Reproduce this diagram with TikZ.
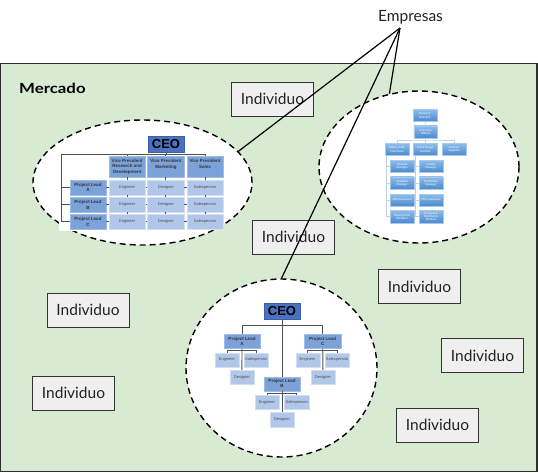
\documentclass[tikz,border=0pt]{standalone}
\usepackage{fontspec}
\setmainfont{Lato}
\newfontfamily\mercfont[FakeStretch=1.2]{Lato}
\newfontfamily\chf{Liberation Sans}
\usetikzlibrary{shapes.geometric}
\definecolor{mk}{HTML}{D9EAD3}
\definecolor{mkb}{HTML}{2E2E2E}
\definecolor{indf}{HTML}{EFEFEF}
\definecolor{indb}{HTML}{333333}
\definecolor{txt}{HTML}{222222}
\definecolor{ceof}{HTML}{4A72C0}
\definecolor{ceod}{HTML}{3A5FA8}
\definecolor{midf}{HTML}{7CA2DA}
\definecolor{midd}{HTML}{9DBBE6}
\definecolor{leaff}{HTML}{B0C7EA}
\definecolor{leafd}{HTML}{D2DFF3}
\definecolor{orgl}{HTML}{505050}
\definecolor{gtop}{HTML}{8DBCE9}
\definecolor{gbot}{HTML}{4A8BD0}
\definecolor{gbrd}{HTML}{A9C9EC}
\definecolor{glin}{HTML}{C2D1E2}
\begin{document}
\begin{tikzpicture}[x=1pt,y=-1pt,
  indiv/.style={draw=indb, fill=indf, line width=0.8pt, minimum width=82pt, minimum height=34pt, inner sep=0pt, text=txt, font=\fontsize{15.5}{18}\selectfont},
  firm/.style={ellipse, draw=black, fill=white, line width=1.4pt, dash pattern=on 6pt off 4pt, inner sep=0pt},
  conn/.style={draw=black, line width=1.2pt},
  ceobox/.style={fill=ceof, draw=ceod, line width=0.5pt, inner sep=0pt, minimum width=36.5pt, minimum height=16.3pt, font=\chf\bfseries\fontsize{13}{13}\selectfont, text=black},
  midbox/.style={fill=midf, draw=midd, line width=0.4pt, inner sep=0pt, align=center, font=\chf\bfseries\fontsize{4.5}{5.3}\selectfont, text=black!80},
  leafbox/.style={fill=leaff, draw=leafd, line width=0.4pt, inner sep=0pt, align=center, font=\chf\fontsize{4}{5}\selectfont, text=black!70},
  orgline/.style={draw=orgl, line width=0.9pt},
  gbox/.style={top color=gtop, bottom color=gbot, draw=gbrd, line width=0.4pt, inner sep=0pt, align=center, minimum width=23.5pt, minimum height=12.2pt, font=\chf\fontsize{2.8}{3.2}\selectfont, text=white},
  gline/.style={draw=glin, line width=0.7pt}
]
\useasboundingbox (0,0) rectangle (538,472);
% market
\draw[draw=mkb, line width=1.2pt, fill=mk] (0.6,63.6) rectangle (536.9,471.2);
\node[anchor=west, inner sep=0pt, font=\mercfont\bfseries\fontsize{14}{16}\selectfont, text=black] (merc) at (19,88) {Mercado};

% firms
\node[firm, minimum width=219pt, minimum height=125pt] (ea) at (142.5,182.5) {};
\node[firm, minimum width=200pt, minimum height=152pt] (eb) at (419,167) {};
\node[firm, minimum width=191pt, minimum height=178pt] (ec) at (281.5,368) {};

% ---------- chart A ----------
\fill[white] (59,196) rectangle (108,230.5);
\node[ceobox] (ceoA) at (166,144.2) {CEO};
\node[midbox, minimum width=36.5pt, minimum height=21.3pt] (vp1) at (127.2,166.6) {Vice President\\Research and\\Development};
\node[midbox, minimum width=36.5pt, minimum height=21.3pt] (vp2) at (165.9,166.6) {Vice President\\Marketing\\\phantom{M}};
\node[midbox, minimum width=36.5pt, minimum height=21.3pt] (vp3) at (205,166.6) {Vice President\\Sales\\\phantom{M}};
\foreach \r/\y/\l in {1/187.5/A,2/204.8/B,3/221.9/C}{
  \node[midbox, minimum width=36pt, minimum height=14.8pt] (pl\r) at (88,\y) {Project Lead\\\l};
  \node[leafbox, minimum width=36.5pt, minimum height=14.8pt] (e\r) at (127.2,\y) {Engineer};
  \node[leafbox, minimum width=36.5pt, minimum height=14.8pt] (d\r) at (165.9,\y) {Designer};
  \node[leafbox, minimum width=36.5pt, minimum height=14.8pt] (s\r) at (205,\y) {Salesperson};
}
\coordinate (barL) at (61.7,154);
\coordinate (barR) at (205,154);
\draw[orgline] (ceoA.south) -- (ceoA.south |- barL);
\draw[orgline] (barL) -- (barR);
\foreach \v in {vp1,vp2,vp3} \draw[orgline] (\v.north |- barL) -- (\v.north);
\foreach \r in {1,2,3}{
  \draw[orgline] (barL) |- (pl\r.west);
  \draw[orgline] (pl\r) -- (e\r) -- (d\r) -- (s\r);
}
\draw[orgline] (vp1) -- (e1) -- (e2) -- (e3);
\draw[orgline] (vp2) -- (d1) -- (d2) -- (d3);
\draw[orgline] (vp3) -- (s1) -- (s2) -- (s3);

% ---------- chart B ----------
\node[gbox] (brd) at (425,115.5) {Board of\\Directors};
\node[gbox] (exo) at (425.7,131.9) {Executive\\Officers};
\node[gbox, minimum width=24pt] (bk) at (397,149.5) {Bakery-Cafe\\Franchises};
\node[gbox, minimum width=24pt] (fd) at (425.3,149.5) {Fresh Dough\\Facilities};
\node[gbox] (ext) at (454,149.5) {External\\Suppliers};
\node[gbox] (gm) at (402.2,166.2) {General\\Manager};
\node[gbox] (am) at (402.2,182.9) {Assistant\\Manager};
\node[gbox, minimum height=11.7pt] (ss1) at (402.2,199.9) {Shift Supervisor};
\node[gbox] (bc) at (402.2,216.7) {Bakery/Crew\\Members};
\node[gbox] (fm) at (431,166.2) {Facility\\Manager};
\node[gbox] (dm) at (431,182.9) {Distribution\\Manager};
\node[gbox, minimum height=11.7pt] (ss2) at (431,199.9) {Shift Supervisor};
\node[gbox] (pw) at (431,216.7) {Production/\\Distribution\\Workers};
\coordinate (barB) at (425.7,140);
\coordinate (sp1) at (386.7,155.7);
\coordinate (sp2) at (415.7,155.7);
\draw[gline] (brd) -- (exo);
\draw[gline] (exo) -- (barB);
\draw[gline] (bk.north) |- (barB) -| (ext.north);
\draw[gline] (barB) -- (fd.north);
\foreach \b in {gm,am,ss1,bc} \draw[gline] (sp1) |- (\b.west);
\foreach \b in {fm,dm,ss2,pw} \draw[gline] (sp2) |- (\b.west);

% ---------- chart C ----------
\node[ceobox, fill=ceof] (ceoC) at (282,311.3) {CEO};
\node[midbox, minimum width=36pt, minimum height=14.3pt] (cpa) at (242,341.2) {Project Lead\\A};
\node[midbox, minimum width=36.7pt, minimum height=14.3pt] (cpc) at (322.7,341.2) {Project Lead\\C};
\node[midbox, minimum width=36pt, minimum height=14pt] (cpb) at (282,383.7) {Project Lead\\B};
\node[leafbox, minimum width=24pt, minimum height=14pt] (cea) at (227,359.7) {Engineer};
\node[leafbox, minimum width=24pt, minimum height=14pt] (csa) at (256.3,359.7) {Salesperson};
\node[leafbox, minimum width=23.7pt, minimum height=14pt] (cda) at (241.9,377) {Designer};
\node[leafbox, minimum width=24pt, minimum height=14pt] (cec) at (307.7,359.7) {Engineer};
\node[leafbox, minimum width=24pt, minimum height=14pt] (csc) at (337,359.7) {Salesperson};
\node[leafbox, minimum width=24pt, minimum height=14pt] (cdc) at (323,377) {Designer};
\node[leafbox, minimum width=24pt, minimum height=14pt] (ceb) at (267,402.3) {Engineer};
\node[leafbox, minimum width=24.7pt, minimum height=14pt] (csb) at (296.7,402.3) {Salesperson};
\node[leafbox, minimum width=24pt, minimum height=14.4pt] (cdb) at (282,419.5) {Designer};
\coordinate (barC) at (282,325.7);
\coordinate (bA) at (242,350.7);
\coordinate (bC) at (322.7,350.7);
\coordinate (bB) at (282,393.7);
\draw[orgline] (ceoC) -- (cpb);
\draw[orgline] (cpa.north) |- (barC) -| (cpc.north);
\draw[orgline] (cpa) -- (cda);
\draw[orgline] (cpc) -- (cdc);
\draw[orgline] (cpb) -- (cdb);
\draw[orgline] (cea.north) |- (bA) -| (csa.north);
\draw[orgline] (cec.north) |- (bC) -| (csc.north);
\draw[orgline] (ceb.north) |- (bB) -| (csb.north);

% ---------- individuals ----------
\node[indiv] (ind1) at (272.5,99) {Individuo};
\node[indiv] (ind2) at (293.5,237) {Individuo};
\node[indiv] (ind3) at (419.5,286.5) {Individuo};
\node[indiv] (ind4) at (88,310) {Individuo};
\node[indiv] (ind5) at (482.5,355.5) {Individuo};
\node[indiv] (ind6) at (73.5,393) {Individuo};
\node[indiv] (ind7) at (437.5,425) {Individuo};

% ---------- Empresas ----------
\node[inner sep=0pt, text=txt, font=\fontsize{15.5}{18}\selectfont] (emp) at (410.5,17) {Empresas};
\coordinate (apex) at (400,28);
\draw[conn] (apex) -- (ea.18);
\draw[conn] (apex) -- (eb.112);
\draw[conn] (apex) -- (ec.north);
\end{tikzpicture}
\end{document}
